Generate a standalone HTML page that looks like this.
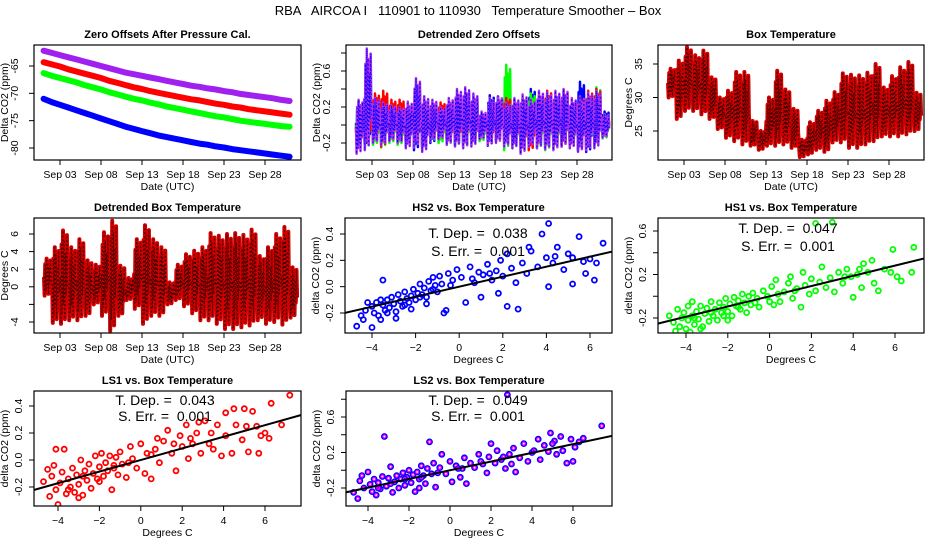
<!DOCTYPE html>
<html><head><meta charset="utf-8">
<style>
html,body{margin:0;padding:0;background:#fff;}
svg{display:block;font-family:"Liberation Sans",sans-serif;}
text{white-space:pre;}
</style></head>
<body>
<svg id="chart" width="936" height="540" viewBox="0 0 936 540" xmlns="http://www.w3.org/2000/svg">
<text x="468" y="15" text-anchor="middle" font-size="13" xml:space="preserve">RBA   AIRCOA I   110901 to 110930   Temperature Smoother – Box</text>
</svg>
<script>
// ---------- data ----------
const timeTicks = ["Sep 03","Sep 08","Sep 13","Sep 18","Sep 23","Sep 28"];
const timeTickDays = [3,8,13,18,23,28];
const tempTicks = [-4,-2,0,2,4,6];
const tempTickLabels = ["−4","−2","0","2","4","6"];

const zeroPurple = [-62.2,-62.6,-63.0,-63.4,-63.8,-64.2,-64.6,-65.0,-65.4,-65.8,-66.2,-66.5,-66.8,-67.1,-67.4,-67.7,-68.0,-68.3,-68.6,-68.8,-69.1,-69.3,-69.6,-69.8,-70.1,-70.3,-70.5,-70.7,-70.9,-71.2,-71.4];
const zeroRed = [-64.3,-64.7,-65.1,-65.6,-66.0,-66.4,-66.8,-67.2,-67.7,-68.1,-68.5,-68.9,-69.2,-69.6,-69.9,-70.2,-70.5,-70.8,-71.1,-71.3,-71.6,-71.9,-72.1,-72.4,-72.6,-72.9,-73.1,-73.3,-73.5,-73.7,-73.9];
const zeroGreen = [-66.3,-66.8,-67.2,-67.6,-68.0,-68.5,-68.9,-69.3,-69.8,-70.2,-70.6,-71.0,-71.3,-71.7,-72.0,-72.4,-72.7,-73.0,-73.3,-73.6,-73.9,-74.2,-74.4,-74.7,-75.0,-75.2,-75.4,-75.6,-75.8,-76.0,-76.1];
const zeroBlue = [-71.0,-71.6,-72.1,-72.6,-73.1,-73.6,-74.1,-74.6,-75.1,-75.6,-76.1,-76.5,-76.9,-77.3,-77.7,-78.0,-78.3,-78.6,-78.9,-79.2,-79.4,-79.7,-79.9,-80.2,-80.4,-80.6,-80.8,-81.0,-81.2,-81.4,-81.6];

const detBlueMax = [0.27,0.25,0.30,0.28,0.22,0.18,0.20,0.40,0.30,0.25,0.20,0.28,0.26,0.35,0.33,0.12,0.33,0.32,0.22,0.28,0.30,0.40,0.32,0.35,0.30,0.28,0.25,0.48,0.30,0.35,0.15];
const detBlueMin = [-0.22,-0.25,-0.20,-0.18,-0.15,-0.18,-0.20,-0.28,-0.25,-0.20,-0.15,-0.18,-0.22,-0.24,-0.20,-0.15,-0.23,-0.18,-0.20,-0.22,-0.21,-0.25,-0.20,-0.22,-0.25,-0.20,-0.22,-0.28,-0.30,-0.22,-0.10];
const detGreenMax = [0.25,0.70,0.22,0.30,0.20,0.15,0.22,0.45,0.28,0.22,0.18,0.25,0.30,0.32,0.28,0.10,0.25,0.28,0.67,0.25,0.26,0.35,0.30,0.32,0.28,0.30,0.22,0.30,0.28,0.42,0.12];
const detGreenMin = [-0.26,-0.27,-0.22,-0.25,-0.20,-0.22,-0.18,-0.22,-0.20,-0.18,-0.20,-0.22,-0.23,-0.25,-0.22,-0.18,-0.20,-0.15,-0.28,-0.26,-0.30,-0.24,-0.26,-0.28,-0.27,-0.22,-0.25,-0.24,-0.26,-0.24,-0.15];
const detRedMax = [0.10,0.30,0.35,0.38,0.28,0.28,0.25,0.20,0.22,0.15,0.25,0.22,0.18,0.28,0.12,0.08,0.15,0.28,0.30,0.25,0.28,0.26,0.30,0.38,0.32,0.38,0.28,0.30,0.38,0.40,0.10];
const detRedMin = [-0.18,-0.22,-0.15,-0.24,-0.16,-0.12,-0.22,-0.10,-0.24,-0.14,-0.12,-0.20,-0.18,-0.12,-0.15,-0.08,-0.18,-0.16,-0.12,-0.18,-0.22,-0.28,-0.18,-0.20,-0.15,-0.24,-0.20,-0.22,-0.25,-0.18,-0.08];
const detPurpleMax = [0.28,0.85,0.30,0.25,0.22,0.20,0.26,0.52,0.32,0.28,0.20,0.30,0.40,0.42,0.35,0.15,0.30,0.32,0.25,0.30,0.34,0.28,0.38,0.36,0.38,0.40,0.30,0.32,0.36,0.38,0.12];
const detPurpleMin = [-0.32,-0.28,-0.20,-0.22,-0.18,-0.20,-0.26,-0.25,-0.30,-0.18,-0.16,-0.22,-0.24,-0.26,-0.24,-0.16,-0.22,-0.20,-0.24,-0.26,-0.32,-0.24,-0.26,-0.27,-0.28,-0.24,-0.26,-0.30,-0.28,-0.26,-0.14];

const boxTempMax = [34.3,35.5,37.5,36.3,37.0,33.0,30.0,31.0,33.8,33.8,26.5,25.0,30.0,34.0,31.2,28.3,23.7,26.3,28.0,29.5,30.8,33.6,33.4,33.3,33.7,35.0,31.5,33.2,34.5,35.3,30.7];
const boxTempMin = [30.0,26.8,28.0,28.0,27.5,26.8,25.3,24.0,23.5,23.0,22.8,22.2,22.8,22.8,23.0,22.5,21.1,21.5,22.2,21.9,23.3,23.3,22.5,22.5,23.0,23.5,24.2,24.2,24.2,24.5,25.0];
const detTempMax = [3.2,4.5,6.4,4.5,5.4,3.0,2.5,6.2,7.5,2.4,1.0,5.4,7.0,5.4,4.5,0.5,2.5,3.7,4.1,4.5,6.1,5.8,6.0,6.1,5.9,6.5,3.5,4.5,6.0,6.8,2.2];
const detTempMin = [-1.0,-4.1,-4.2,-3.8,-3.8,-3.3,-2.0,-3.3,-5.0,-3.3,-1.5,-2.5,-4.2,-3.3,-3.3,-2.0,-1.5,-2.2,-3.0,-3.8,-3.8,-4.2,-4.8,-4.8,-4.6,-4.4,-3.8,-4.2,-4.0,-4.3,-3.5];

const hs2Points = [[-4.7,-0.30],[-4.5,-0.22],[-4.3,-0.18],[-4.2,-0.12],[-4.0,-0.31],[-4.0,-0.15],[-3.9,-0.20],[-3.8,-0.12],[-3.7,-0.22],[-3.6,-0.25],[-3.5,0.05],[-3.5,-0.14],[-3.4,-0.18],[-3.3,-0.10],[-3.2,-0.16],[-3.1,-0.08],[-3.0,-0.13],[-2.9,-0.19],[-2.8,-0.06],[-2.7,-0.11],[-2.6,-0.15],[-2.5,-0.04],[-2.4,-0.09],[-2.3,-0.12],[-2.2,-0.07],[-2.1,-0.02],[-2.0,-0.10],[-1.9,-0.05],[-1.8,0.02],[-1.7,-0.06],[-1.6,-0.01],[-1.5,-0.08],[-1.4,0.04],[-1.3,-0.03],[-1.2,0.07],[-1.1,0.01],[-1.0,-0.04],[-0.9,0.08],[-0.8,0.02],[-0.6,-0.18],[-0.5,0.10],[-0.3,0.05],[-0.1,0.13],[0.1,0.07],[0.3,-0.12],[0.5,0.15],[0.7,0.03],[0.9,0.11],[1.1,0.09],[1.3,0.17],[1.5,0.05],[1.7,0.12],[1.9,0.20],[2.0,0.08],[2.2,0.25],[2.4,0.14],[2.6,0.03],[2.9,0.18],[3.1,0.10],[3.3,0.27],[3.6,0.15],[3.8,0.40],[4.0,0.22],[4.1,0.48],[4.3,0.18],[4.5,0.30],[4.8,0.13],[5.0,0.25],[5.2,0.02],[5.5,0.38],[5.8,0.10],[6.0,0.21],[6.2,0.05],[6.3,0.18],[6.6,0.33],[-3.6,-0.10],[-2.9,-0.24],[-2.2,-0.17],[-1.5,-0.13],[-0.7,-0.20],[1.8,-0.05],[2.2,-0.15],[3.2,0.30],[4.1,0.00],[5.2,0.22],[2.7,-0.17],[1.0,-0.08],[-4.4,-0.25],[-3.3,-0.20],[-2.5,-0.14],[-1.8,-0.08],[-1.2,-0.02],[-0.4,0.01],[0.6,0.06],[1.4,0.10],[4.4,0.23],[5.7,0.19]];
const hs1Points = [[-4.8,-0.18],[-4.6,-0.24],[-4.4,-0.12],[-4.3,-0.28],[-4.2,-0.20],[-4.1,-0.15],[-4.0,-0.30],[-3.9,-0.09],[-3.9,-0.22],[-3.8,-0.33],[-3.7,-0.18],[-3.7,-0.05],[-3.6,-0.26],[-3.5,-0.14],[-3.4,-0.21],[-3.3,-0.09],[-3.2,-0.28],[-3.1,-0.16],[-3.0,-0.11],[-2.9,-0.23],[-2.8,-0.05],[-2.7,-0.18],[-2.6,-0.12],[-2.5,-0.22],[-2.4,-0.06],[-2.3,-0.15],[-2.2,-0.10],[-2.1,-0.02],[-2.0,-0.14],[-1.9,-0.07],[-1.8,-0.18],[-1.7,-0.01],[-1.6,-0.09],[-1.5,-0.04],[-1.4,-0.12],[-1.3,0.02],[-1.2,-0.06],[-1.1,-0.15],[-1.0,0.00],[-0.9,-0.08],[-0.8,0.03],[-0.6,-0.02],[-0.5,-0.10],[-0.3,0.05],[-0.1,0.00],[0.1,0.09],[0.2,-0.08],[0.3,0.15],[0.5,-0.05],[0.7,0.04],[0.9,0.12],[1.1,-0.02],[1.3,0.07],[1.5,-0.10],[1.7,0.10],[1.9,0.02],[2.0,0.16],[2.2,0.05],[2.4,0.13],[2.5,0.27],[2.7,0.08],[2.9,0.17],[3.1,0.04],[3.3,0.22],[3.5,0.12],[3.7,0.25],[3.9,0.18],[4.0,-0.01],[4.2,0.20],[4.4,0.08],[4.5,0.30],[4.7,0.22],[4.9,0.33],[5.0,0.12],[5.2,0.05],[5.5,0.25],[5.8,0.22],[5.9,0.43],[6.1,0.18],[6.3,0.14],[6.8,0.22],[6.9,0.45],[3.0,0.68],[2.2,0.67],[-4.5,-0.32],[-3.3,-0.30],[-2.0,-0.22],[0.0,-0.05],[1.0,0.18],[1.6,0.22],[-3.6,-0.20],[-2.8,-0.15],[-2.2,-0.18],[-1.5,-0.10],[-0.7,-0.06],[0.4,0.02],[1.2,0.05],[3.6,0.18],[4.3,0.25]];
const ls1Points = [[-4.7,-0.16],[-4.5,-0.07],[-4.4,-0.27],[-4.3,-0.12],[-4.2,-0.04],[-4.1,-0.22],[-4.0,-0.33],[-3.9,-0.17],[-3.8,-0.09],[-3.7,0.08],[-3.6,-0.25],[-3.5,-0.14],[-3.4,-0.20],[-3.3,-0.06],[-3.2,-0.24],[-3.1,-0.11],[-3.0,-0.18],[-2.9,0.00],[-2.8,-0.26],[-2.7,-0.08],[-2.6,-0.15],[-2.5,-0.03],[-2.4,-0.21],[-2.3,-0.10],[-2.2,0.03],[-2.1,-0.14],[-2.0,-0.05],[-1.9,0.05],[-1.8,-0.12],[-1.7,-0.02],[-1.6,-0.08],[-1.5,0.03],[-1.4,-0.22],[-1.3,-0.06],[-1.2,0.02],[-1.1,-0.11],[-1.0,0.06],[-0.9,-0.03],[-0.7,-0.13],[-0.5,0.10],[-0.4,0.01],[-0.2,-0.06],[0.0,0.12],[0.2,-0.10],[0.3,0.05],[0.5,-0.14],[0.7,0.08],[0.9,-0.02],[1.1,0.14],[1.3,0.22],[1.5,0.05],[1.7,-0.08],[1.9,0.18],[2.0,0.10],[2.2,0.26],[2.3,0.01],[2.5,0.12],[2.7,0.20],[2.9,0.05],[3.1,0.29],[3.3,0.12],[3.5,0.08],[3.7,0.26],[3.9,0.03],[4.1,0.35],[4.1,0.18],[4.4,0.05],[4.5,0.38],[4.6,0.26],[4.9,0.15],[5.0,0.38],[5.1,0.25],[5.2,0.06],[5.4,0.36],[5.6,0.25],[5.7,0.05],[5.8,0.18],[6.0,0.20],[6.2,0.16],[6.3,0.42],[6.8,0.26],[7.2,0.48],[-4.1,0.08],[-3.0,-0.28],[0.8,0.16],[2.8,0.28],[-3.5,-0.22],[-2.8,-0.12],[-2.0,-0.16],[-1.3,-0.04],[-0.6,-0.02],[0.5,0.04],[1.6,0.12],[2.4,0.16],[3.4,0.20]];
const ls2Points = [[-4.7,-0.25],[-4.5,-0.32],[-4.4,-0.12],[-4.3,-0.06],[-4.2,-0.20],[-4.0,-0.02],[-3.9,-0.16],[-3.8,-0.24],[-3.7,-0.10],[-3.6,-0.28],[-3.5,-0.14],[-3.4,-0.21],[-3.3,-0.07],[-3.2,0.38],[-3.1,-0.18],[-3.0,-0.09],[-2.9,0.04],[-2.8,-0.25],[-2.7,-0.13],[-2.6,-0.06],[-2.5,-0.20],[-2.4,-0.10],[-2.3,-0.03],[-2.2,-0.17],[-2.1,-0.08],[-2.0,0.00],[-1.9,-0.14],[-1.8,-0.05],[-1.7,-0.24],[-1.6,-0.02],[-1.5,-0.10],[-1.4,0.05],[-1.3,-0.06],[-1.2,-0.15],[-1.1,0.02],[-1.0,0.32],[-0.9,-0.04],[-0.8,0.08],[-0.7,-0.19],[-0.5,0.03],[-0.4,0.18],[-0.2,-0.04],[0.0,0.10],[0.1,-0.13],[0.3,0.05],[0.5,-0.08],[0.7,0.14],[0.8,-0.15],[1.0,0.08],[1.2,0.03],[1.4,0.18],[1.6,0.07],[1.8,-0.03],[1.9,0.15],[2.0,0.30],[2.2,0.08],[2.3,0.22],[2.5,0.12],[2.7,0.02],[2.8,0.85],[2.9,0.18],[3.1,0.25],[3.2,-0.02],[3.4,0.14],[3.6,0.30],[3.8,0.10],[4.0,0.20],[4.3,0.35],[4.4,0.12],[4.6,0.28],[4.8,0.21],[4.9,0.42],[5.1,0.33],[5.2,0.18],[5.4,0.38],[5.5,0.22],[5.7,0.08],[5.9,0.35],[6.0,0.10],[6.1,0.26],[6.3,0.32],[6.5,0.36],[7.4,0.50],[-1.5,-0.20],[0.6,0.02],[3.0,0.07],[5.0,0.30],[-3.5,-0.20],[-2.9,-0.15],[-2.2,-0.10],[-1.4,-0.08],[-0.6,-0.03],[0.4,0.02],[1.5,0.10],[2.6,0.15],[4.1,0.22]];

const slopes = [0.038, 0.047, 0.043, 0.049];
const slopeLabels = ["0.038","0.047","0.043","0.049"];
const errLabels = ["0.001","0.001","0.001","0.001"];

// ---------- helpers ----------
const NS = "http://www.w3.org/2000/svg";
const svg = document.getElementById("chart");
function mk(tag, attrs, parent) {
  const e = document.createElementNS(NS, tag);
  for (const k in attrs) e.setAttribute(k, attrs[k]);
  (parent || svg).appendChild(e);
  return e;
}
function lin(v0, p0, v1, p1) { return v => p0 + (v - v0) * (p1 - p0) / (v1 - v0); }

function panel(name, box, title, xlab, ylab, yTicks, yLabels, xTicksV, xLabels, xf, yf, lblOff) {
  const g = mk("g", {});
  
  
  const cx = (box[0] + box[2]) / 2;
  const t = mk("text", {x: cx, y: box[1] - 7, "text-anchor": "middle", "font-size": 11, "font-weight": "bold"}, g);
  t.textContent = title;
  
  
  const clipId = name + "-clip";
  const cp = mk("clipPath", {id: clipId}, g);
  mk("rect", {x: box[0], y: box[1], width: box[2] - box[0], height: box[3] - box[1]}, cp);
  const plot = mk("g", {"clip-path": "url(#" + clipId + ")"}, g);
  
  
  xTicksV.forEach((v, i) => {
    const px = xf(v);
    mk("line", {x1: px, x2: px, y1: box[3], y2: box[3] + 5, stroke: "#000"}, g);
    const tl = mk("text", {x: px, y: box[3] + 18, "text-anchor": "middle", "font-size": 10.5}, g);
    tl.textContent = xLabels[i];
    
    
  });
  const xl = mk("text", {x: cx, y: box[3] + 30, "text-anchor": "middle", "font-size": 10.5}, g);
  xl.textContent = xlab;
  
  
  yTicks.forEach((v, i) => {
    const py = yf(v);
    mk("line", {x1: box[0] - 5, x2: box[0], y1: py, y2: py, stroke: "#000"}, g);
    if (yLabels[i] !== "") {
      const lx = box[0] - lblOff;
      const tl = mk("text", {x: lx, y: py, "text-anchor": "middle", "font-size": 10.5, transform: "rotate(-90 " + lx + " " + py + ")"}, g);
      tl.textContent = yLabels[i];
      
      
    }
  });
  const ly = box[0] - 26, my = (box[1] + box[3]) / 2;
  const yl = mk("text", {x: ly, y: my, "text-anchor": "middle", "font-size": 10.5, transform: "rotate(-90 " + ly + " " + my + ")"}, g);
  yl.textContent = ylab;
  
  
  const frame = mk("rect", {x: box[0], y: box[1], width: box[2] - box[0], height: box[3] - box[1], fill: "none", stroke: "#000", "stroke-width": 1.2}, g);
  
  
  return plot;
}

function line(plot, name, vals, xf, yf, color, w) {
  const pts = vals.map((v, i) => xf(1 + i).toFixed(1) + "," + yf(v).toFixed(1)).join(" ");
  const pl = mk("polyline", {points: pts, fill: "none", stroke: color, "stroke-width": w, "stroke-linejoin": "round", "stroke-linecap": "round"}, plot);
  
  
}
// intra-day sampling pattern (fraction of day, fraction of min->max range): fills each daily block
const dayPattern = [[0.05,0.5],[0.12,0.0],[0.2,0.85],[0.28,0.1],[0.36,1.0],[0.44,0.2],[0.52,0.9],[0.6,0.05],[0.68,0.75],[0.76,0.3],[0.84,0.95],[0.92,0.4]];
function zigzag(plot, name, mins, maxs, xf, yf, color, w, dash) {
  const pts = [];
  mins.forEach((m, i) => {
    dayPattern.forEach(q => {
      pts.push(xf(1 + i + q[0]).toFixed(1) + "," + yf(m + (maxs[i] - m) * q[1]).toFixed(1));
    });
  });
  const pl = mk("polyline", {points: pts.join(" "), fill: "none", stroke: color, "stroke-width": w, "stroke-linejoin": "round"}, plot);
  
  
  if (dash) {
    const d = mk("polyline", {points: pts.join(" "), fill: "none", stroke: dash, "stroke-width": 1, "stroke-dasharray": "1.5 2.5"}, plot);
    
    
  }
}
function scatter(plot, name, pts, xf, yf, color, outline) {
  pts.forEach(p => {
    const c = mk("circle", {cx: xf(p[0]).toFixed(1), cy: yf(p[1]).toFixed(1), r: 2.5, fill: "none", stroke: outline || color, "stroke-width": 1.8}, plot);
    
    
    if (outline) {
      const c2 = mk("circle", {cx: xf(p[0]).toFixed(1), cy: yf(p[1]).toFixed(1), r: 1.5, fill: "none", stroke: color, "stroke-width": 1.2}, plot);
      
      
    }
  });
}
function fitLine(plot, name, slope, xf, yf, x0, x1) {
  const l = mk("line", {x1: xf(x0), y1: yf(slope * x0), x2: xf(x1), y2: yf(slope * x1), stroke: "#000", "stroke-width": 2}, plot);
  
  
}
function stats(name, cx, y1, y2, dep, err) {
  const a = mk("text", {x: cx, y: y1, "text-anchor": "middle", "font-size": 14}, svg);
  a.textContent = "T. Dep. =  " + dep;
  
  
  const b = mk("text", {x: cx, y: y2, "text-anchor": "middle", "font-size": 14}, svg);
  b.textContent = "S. Err. =  " + err;
  
  
}
function timeX(sep03px) { return lin(3, sep03px, 28, sep03px + 205); }

// ---------- panel 1 ----------
{
  const box = [34, 45, 301, 160];
  const xf = timeX(60), yf = lin(-65, 66, -80, 148);
  const p = panel("zero-offsets-panel", box, "Zero Offsets After Pressure Cal.", "Date (UTC)", "Delta CO2 (ppm)",
    [-65, -70, -75, -80], ["-65", "-70", "-75", "-80"], timeTickDays, timeTicks, xf, yf, 16);
  line(p, "zero-ls2-series", zeroPurple, xf, yf, "#a020f0", 6);
  line(p, "zero-ls1-series", zeroRed, xf, yf, "#ff0000", 6);
  line(p, "zero-hs1-series", zeroGreen, xf, yf, "#00ff00", 6);
  line(p, "zero-hs2-series", zeroBlue, xf, yf, "#0000ff", 6);
}
// ---------- panel 2 ----------
{
  const box = [346, 45, 612, 160];
  const xf = timeX(372), yf = lin(0.6, 71, -0.2, 143);
  const p = panel("detrended-zero-panel", box, "Detrended Zero Offsets", "Date (UTC)", "Delta CO2 (ppm)",
    [0.8, 0.6, 0.4, 0.2, 0.0, -0.2], ["", "0.6", "", "0.2", "", "-0.2"], timeTickDays, timeTicks, xf, yf, 16);
  zigzag(p, "detrended-hs2-series", detBlueMin, detBlueMax, xf, yf, "#0000ff", 2.5);
  zigzag(p, "detrended-hs1-series", detGreenMin, detGreenMax, xf, yf, "#00ff00", 2.5);
  zigzag(p, "detrended-ls1-series", detRedMin, detRedMax, xf, yf, "#ff0000", 2.5);
  zigzag(p, "detrended-ls2-series", detPurpleMin, detPurpleMax, xf, yf, "#b030f0", 2.5, "#0000ff");
}
// ---------- panel 3 ----------
{
  const box = [658, 45, 924, 160];
  const xf = timeX(684), yf = lin(35, 64, 25, 131);
  const p = panel("box-temperature-panel", box, "Box Temperature", "Date (UTC)", "Degrees C",
    [25, 30, 35], ["25", "30", "35"], timeTickDays, timeTicks, xf, yf, 16);
  zigzag(p, "box-temperature-series", boxTempMin, boxTempMax, xf, yf, "#d00000", 4, "#300000");
}
// ---------- panel 4 ----------
{
  const box = [34, 218, 301, 333];
  const xf = timeX(60), yf = lin(6, 234, -4, 322);
  const p = panel("detrended-box-temperature-panel", box, "Detrended Box Temperature", "Date (UTC)", "Degrees C",
    [6, 4, 2, 0, -2, -4], ["6", "4", "2", "0", "", "-4"], timeTickDays, timeTicks, xf, yf, 16);
  zigzag(p, "detrended-temperature-series", detTempMin, detTempMax, xf, yf, "#d00000", 4, "#300000");
}
// ---------- panel 5 ----------
{
  const box = [345, 218, 612, 333];
  const xf = lin(-4, 372, 6, 590), yf = lin(0.4, 234, -0.2, 313);
  const p = panel("hs2-scatter-panel", box, "HS2 vs. Box Temperature", "Degrees C", "delta CO2 (ppm)",
    [0.4, 0.2, 0.0, -0.2], ["0.4", "0.2", "0.0", "-0.2"], tempTicks, tempTickLabels, xf, yf, 12);
  scatter(p, "hs2", hs2Points, xf, yf, "#0000ff");
  fitLine(p, "hs2-fit-line", slopes[0], xf, yf, -6, 8);
  stats("hs2", 478, 238, 256, slopeLabels[0], errLabels[0]);
}
// ---------- panel 6 ----------
{
  const box = [658, 218, 924, 333];
  const xf = lin(-4, 686, 6, 895), yf = lin(0.6, 231, -0.2, 318);
  const p = panel("hs1-scatter-panel", box, "HS1 vs. Box Temperature", "Degrees C", "delta CO2 (ppm)",
    [0.6, 0.4, 0.2, 0.0, -0.2], ["0.6", "", "0.2", "", "-0.2"], tempTicks, tempTickLabels, xf, yf, 12);
  scatter(p, "hs1", hs1Points, xf, yf, "#00ff00");
  fitLine(p, "hs1-fit-line", slopes[1], xf, yf, -6, 8);
  stats("hs1", 788, 233, 251, slopeLabels[1], errLabels[1]);
}
// ---------- panel 7 ----------
{
  const box = [34, 391, 301, 506];
  const xf = lin(-4, 58, 6, 265), yf = lin(0.4, 406, -0.2, 487);
  const p = panel("ls1-scatter-panel", box, "LS1 vs. Box Temperature", "Degrees C", "delta CO2 (ppm)",
    [0.4, 0.2, 0.0, -0.2], ["0.4", "0.2", "0.0", "-0.2"], tempTicks, tempTickLabels, xf, yf, 12);
  scatter(p, "ls1", ls1Points, xf, yf, "#ff0000");
  fitLine(p, "ls1-fit-line", slopes[2], xf, yf, -6, 8);
  stats("ls1", 165, 405, 421, slopeLabels[2], errLabels[2]);
}
// ---------- panel 8 ----------
{
  const box = [346, 391, 612, 506];
  const xf = lin(-4, 368, 6, 573), yf = lin(0.6, 417, -0.2, 488);
  const p = panel("ls2-scatter-panel", box, "LS2 vs. Box Temperature", "Degrees C", "delta CO2 (ppm)",
    [0.8, 0.6, 0.4, 0.2, 0.0, -0.2], ["", "0.6", "", "0.2", "", "-0.2"], tempTicks, tempTickLabels, xf, yf, 12);
  scatter(p, "ls2", ls2Points, xf, yf, "#ff00ff", "#0000ff");
  fitLine(p, "ls2-fit-line", slopes[3], xf, yf, -6, 8);
  stats("ls2", 478, 405, 421, slopeLabels[3], errLabels[3]);
}
</script>
</body></html>
